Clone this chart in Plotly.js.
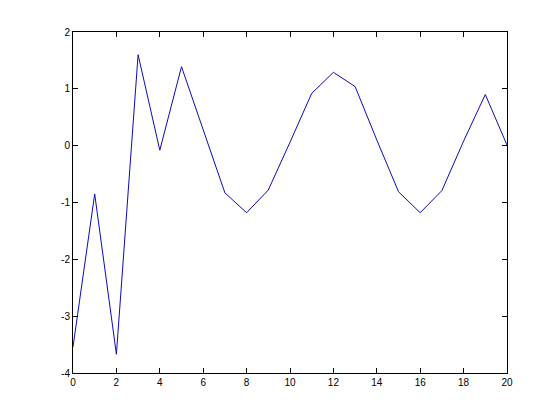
<!DOCTYPE html>
<html>
<head>
<meta charset="utf-8">
<script src="https://cdn.plot.ly/plotly-3.0.1.min.js"></script>
<style>
  html, body { margin: 0; padding: 0; background: #fff; }
  #chart { width: 560px; height: 420px; }
</style>
</head>
<body>
<div id="chart"></div>
<script>
// values
const xs = [0, 1, 2, 3, 4, 5, 6, 7, 8, 9, 10, 11, 12, 13, 14, 15, 16, 17, 18, 19, 20];
const ys = [-3.54, -0.85, -3.67, 1.60, -0.08, 1.39, 0.28, -0.83, -1.18, -0.78, 0.06,
            0.92, 1.29, 1.04, 0.10, -0.81, -1.18, -0.79, 0.08, 0.90, 0.01];
const xTicks = [0, 2, 4, 6, 8, 10, 12, 14, 16, 18, 20];
const yTicks = [-4, -3, -2, -1, 0, 1, 2];

const axisBase = {
    showgrid: false,
    zeroline: false,
    showline: true,
    mirror: 'ticks',
    linecolor: '#000',
    linewidth: 1,
    ticks: 'inside',
    ticklen: 5,
    tickcolor: '#000',
    tickfont: { family: 'Liberation Sans, Arial, sans-serif', size: 10, color: '#000' }
};

const layout = {
    width: 560,
    height: 420,
    paper_bgcolor: '#fff',
    plot_bgcolor: '#fff',
    showlegend: false,
    margin: { l: 73, r: 53, t: 32, b: 47 },
    xaxis: { ...axisBase, range: [0, 20], tickvals: xTicks, ticktext: xTicks.map(String) },
    yaxis: { ...axisBase, range: [-4, 2], tickvals: yTicks, ticktext: yTicks.map(String) }
};

Plotly.newPlot('chart', [{
    x: xs,
    y: ys,
    type: 'scatter',
    mode: 'lines',
    line: { color: '#0a0ac0', width: 1 }
}], layout, { displayModeBar: false, staticPlot: true });
</script>
</body>
</html>
